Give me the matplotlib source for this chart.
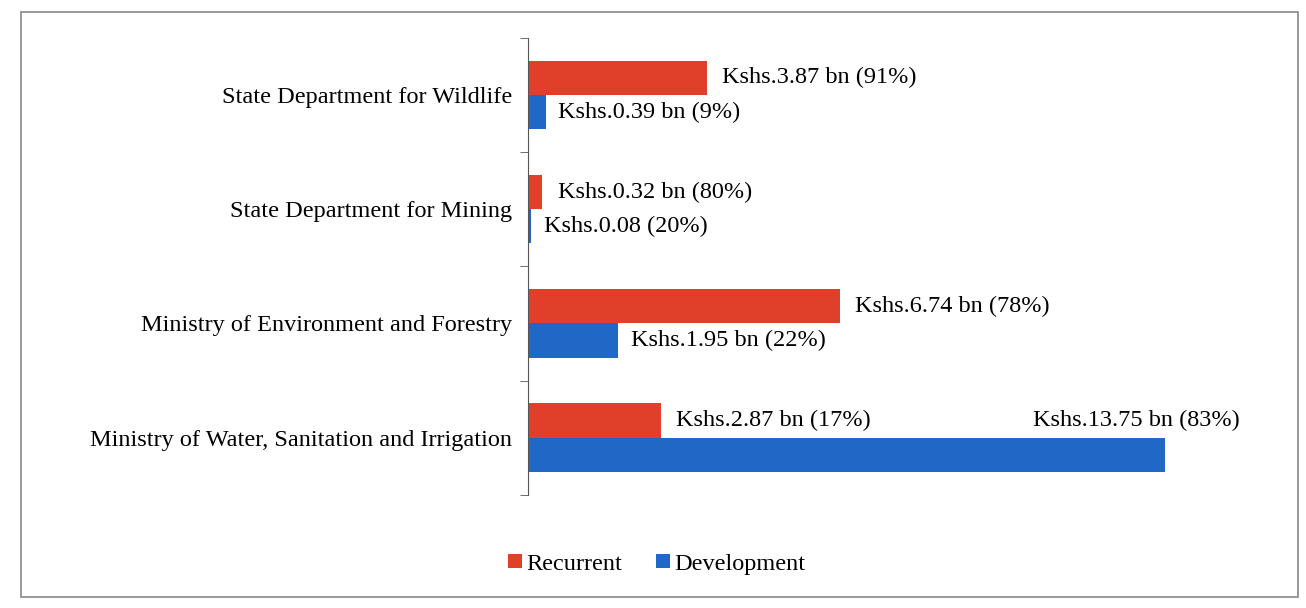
import matplotlib
matplotlib.use('Agg')
import numpy as np
import matplotlib.pyplot as plt
from matplotlib.patches import Rectangle

plt.rcParams['font.family'] = ['Liberation Serif', 'DejaVu Serif']

# Daten (Mrd. Kshs), von oben nach unten im Bild
categories = ["State Department for Wildlife",
              "State Department for Mining",
              "Ministry of Environment and Forestry",
              "Ministry of Water, Sanitation and Irrigation"]
recurrent = [3.87, 0.32, 6.74, 2.87]
development = [0.39, 0.08, 1.95, 13.75]
rec_labels = ["Kshs.3.87 bn (91%)", "Kshs.0.32 bn (80%)",
              "Kshs.6.74 bn (78%)", "Kshs.2.87 bn (17%)"]
dev_labels = ["Kshs.0.39 bn (9%)", "Kshs.0.08 (20%)",
              "Kshs.1.95 bn (22%)", "Kshs.13.75 bn (83%)"]

red = '#E0402A'
blue = '#2167C6'
fs = 17.5

fig = plt.figure(figsize=(13.06, 6.08), dpi=100)
ax = fig.add_axes([0.404, 0.186, 0.546, 0.752])

y = np.arange(len(categories))[::-1]
h = 0.3
ax.barh(y + h / 2, recurrent, height=h, color=red, label='Recurrent')
ax.barh(y - h / 2, development, height=h, color=blue, label='Development')

ax.set_xlim(0, 15.38)
ax.set_ylim(-0.5, 3.5)

# Beschriftungen rechts neben den Balken
for i in range(len(categories)):
    ax.annotate(rec_labels[i], (recurrent[i], y[i] + h / 2), xytext=(11, 0),
                textcoords='offset points', va='center', ha='left', fontsize=fs)
    if i == len(categories) - 1:
        # letzter Wert steht über dem Balkenende
        ax.annotate(dev_labels[i], (development[i], y[i] + h / 2), xytext=(54, 0),
                    textcoords='offset points', va='center', ha='right', fontsize=fs)
    else:
        ax.annotate(dev_labels[i], (development[i], y[i] - h / 2), xytext=(9, 0),
                    textcoords='offset points', va='center', ha='left', fontsize=fs)

ax.set_yticks(y)
ax.set_yticklabels(categories, fontsize=fs)
ax.tick_params(axis='y', length=0, pad=11)
ax.set_yticks([-0.5, 0.5, 1.5, 2.5, 3.5], minor=True)
ax.tick_params(axis='y', which='minor', length=6, direction='out', color='#555555')
ax.set_xticks([])
for s in ['top', 'right', 'bottom']:
    ax.spines[s].set_visible(False)
ax.spines['left'].set_color('#555555')

fig.legend(loc='center', bbox_to_anchor=(0.503, 0.072), ncol=2, frameon=False,
           fontsize=fs, handlelength=0.55, handleheight=0.55, handletextpad=0.2,
           columnspacing=1.4)

# Rahmen um das Diagramm
fig.patches.append(Rectangle((0.016, 0.018), 0.978, 0.962, transform=fig.transFigure,
                             fill=False, edgecolor='#888888', linewidth=1.2))

fig.savefig('out.png', dpi=100)
